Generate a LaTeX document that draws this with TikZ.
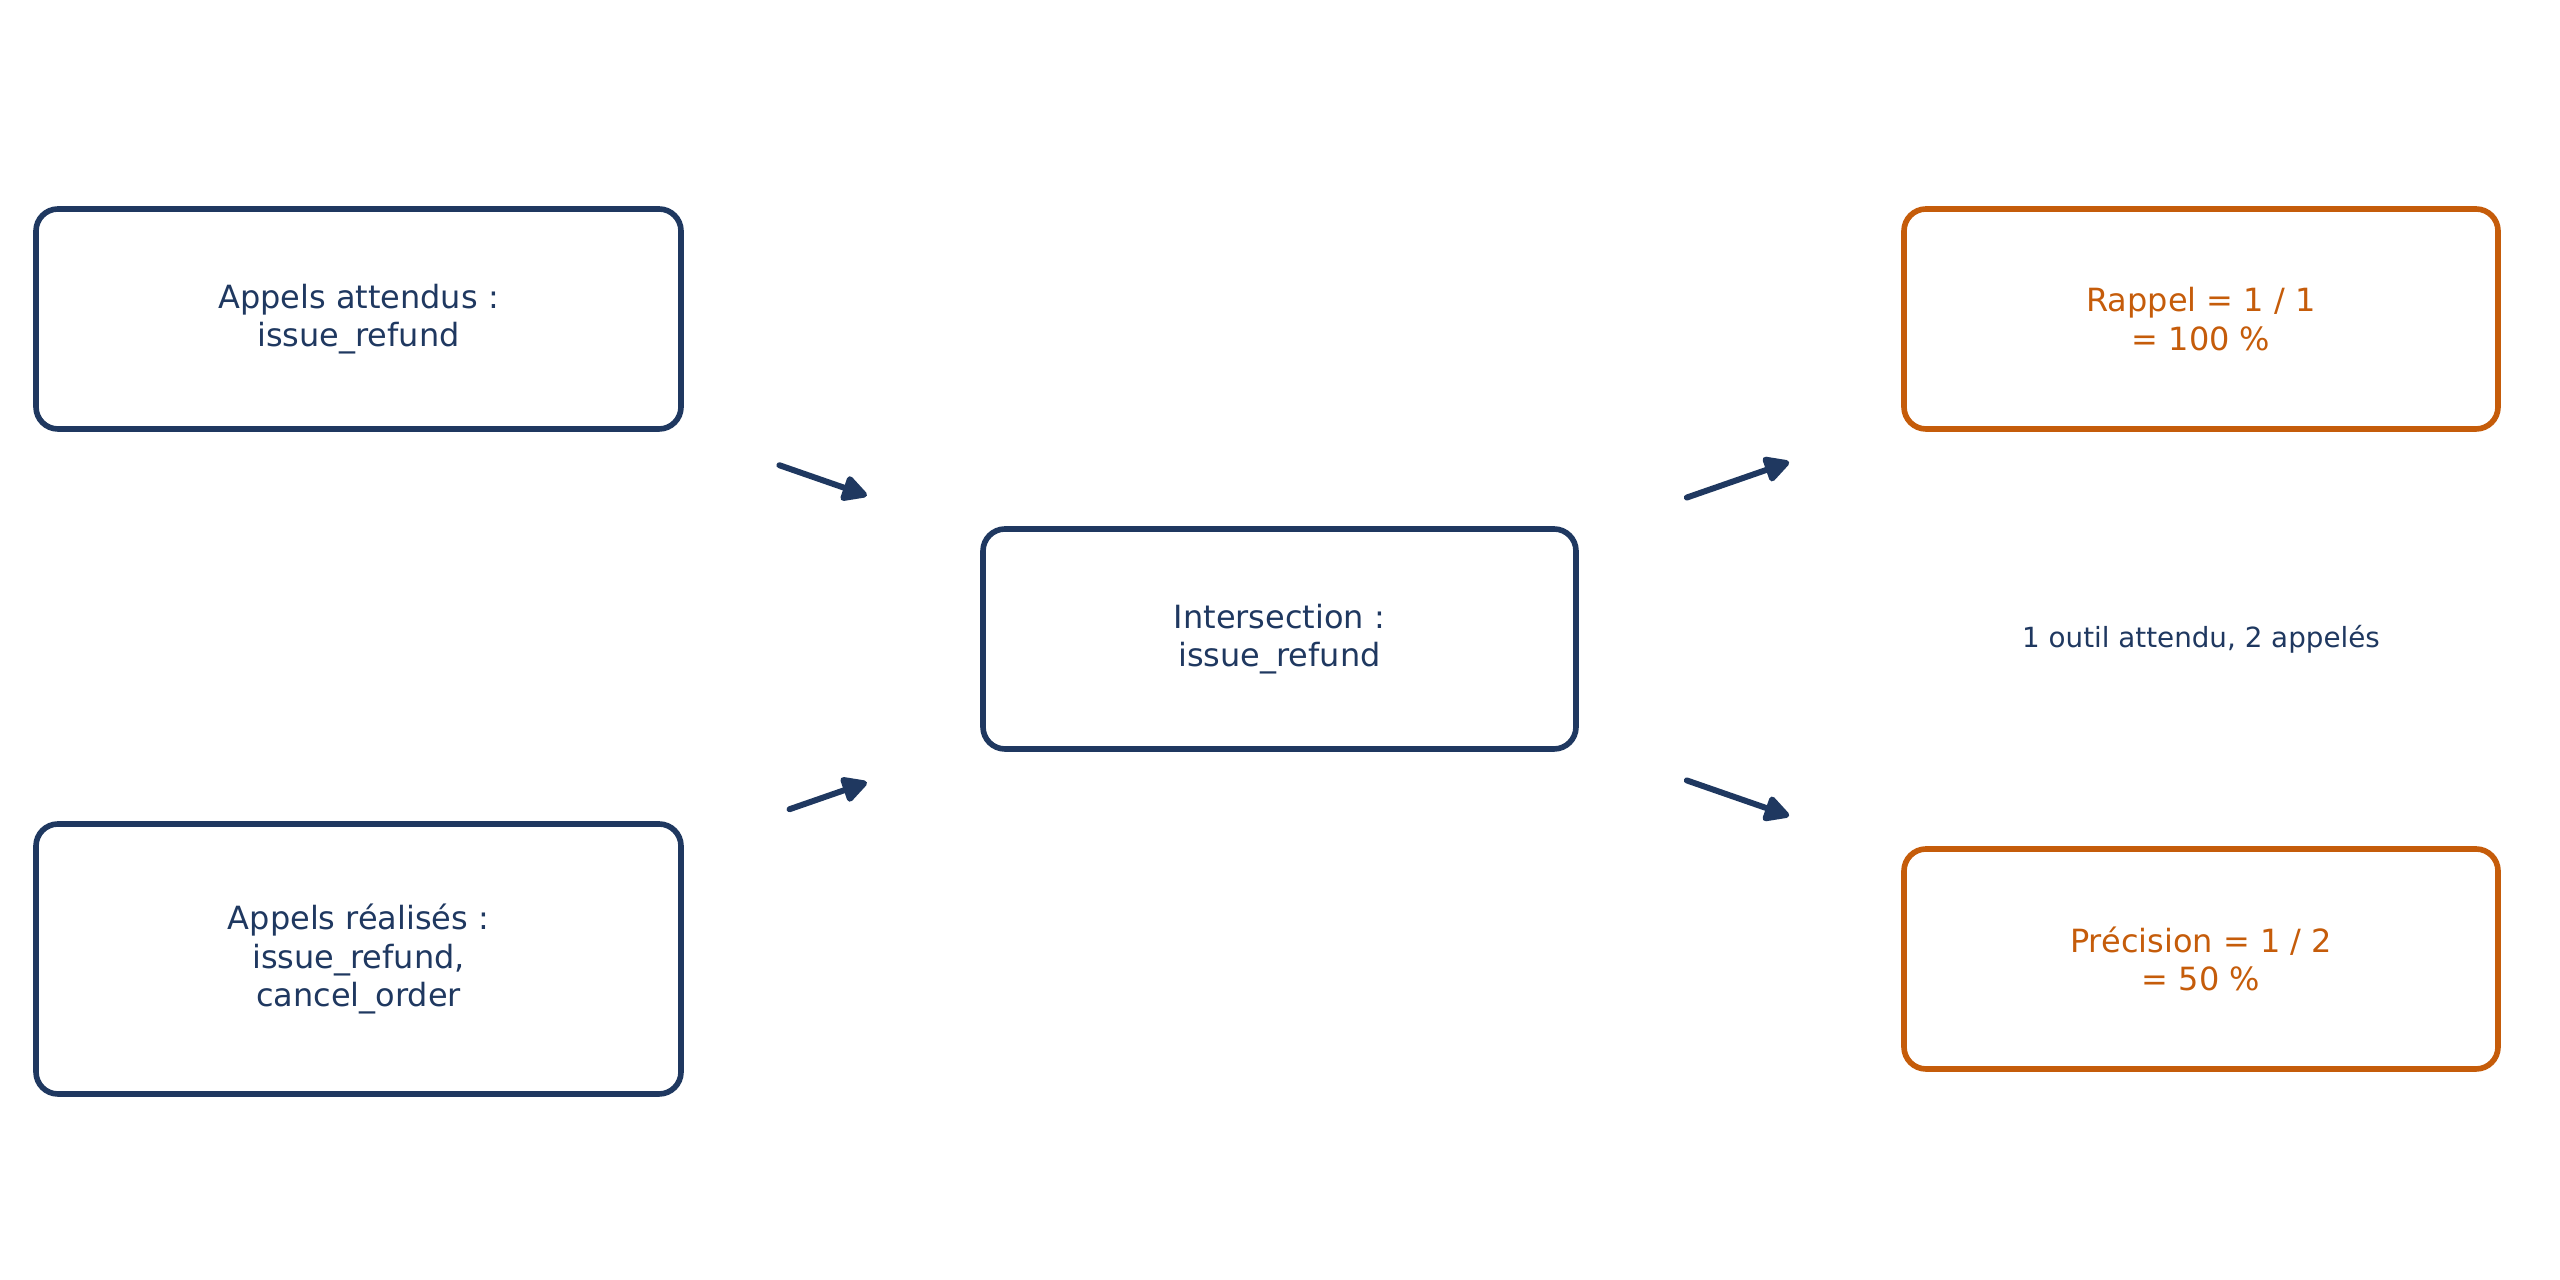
\documentclass[tikz,border=0pt]{standalone}
\usepackage{fontspec}
\setmainfont{DejaVu Sans}
\usetikzlibrary{arrows.meta,calc}
\definecolor{navy}{RGB}{31,56,96}
\definecolor{rust}{RGB}{197,92,10}
\begin{document}
\begin{tikzpicture}[font=\fontsize{9.1}{10.9}\selectfont,
	box/.style={draw=navy,text=navy,line width=1.6pt,rounded corners=0.22cm,align=center,inner sep=0pt,minimum height=2.2cm},
	score/.style={box,draw=rust,text=rust,minimum width=5.94cm},
	flow/.style={draw=navy,line width=1.7pt,line cap=round,-{Triangle[length=8pt,width=8pt,round]}}]
	\useasboundingbox (0,0) rectangle (25.6,-12.8);
	\node[box,minimum width=6.45cm] (A) at (3.585,-3.19) {Appels attendus :\\issue\_refund};
	\node[box,minimum width=6.45cm,minimum height=2.7cm] (B) at (3.585,-9.59) {Appels réalisés :\\issue\_refund,\\cancel\_order};
	\node[box,minimum width=5.93cm] (C) at (12.795,-6.39) {Intersection :\\issue\_refund};
	\node[score] (R) at (22.01,-3.19) {Rappel = 1 / 1\\= 100 \%};
	\node[score] (P) at (22.01,-9.59) {Précision = 1 / 2\\= 50 \%};
	\node[text=navy,font=\fontsize{7.9}{9.5}\selectfont] (N) at (22.01,-6.39) {1 outil attendu, 2 appelés};
	\foreach \s/\t/\a/\b in {A/C/0.457/0.552,B/C/0.468/0.552,C/R/0.442/0.553,C/P/0.442/0.553}
		\draw[flow] ($(\s)!\a!(\t)$) -- ($(\s)!\b!(\t)$);
\end{tikzpicture}
\end{document}
